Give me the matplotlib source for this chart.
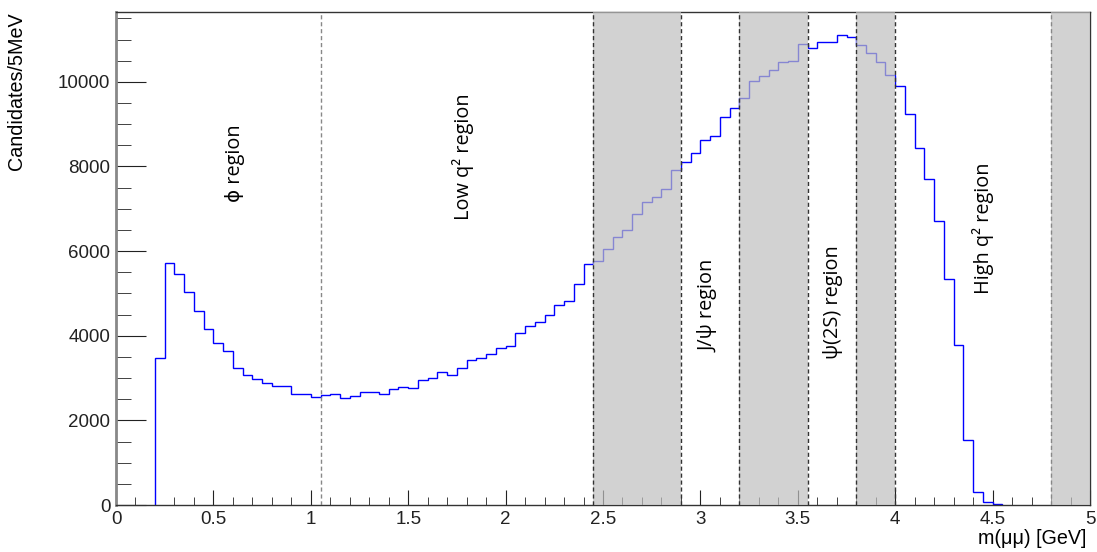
import numpy as np
import matplotlib.pyplot as plt
from matplotlib.ticker import MultipleLocator

# dimuon mass spectrum, 5 MeV bins starting at 0.20 GeV
counts = [3480, 5710, 5460, 5030, 4590, 4150, 3820, 3630, 3240, 3080,
          2970, 2880, 2820, 2820, 2630, 2630, 2550, 2590, 2620, 2540,
          2580, 2680, 2680, 2630, 2730, 2780, 2770, 2950, 3010, 3140,
          3070, 3230, 3430, 3480, 3580, 3700, 3750, 4060, 4240, 4330,
          4480, 4720, 4830, 5220, 5700, 5770, 6060, 6330, 6490, 6880,
          7170, 7270, 7460, 7910, 8110, 8320, 8620, 8730, 9180, 9390,
          9610, 10020, 10130, 10270, 10470, 10500, 10890, 10800, 10950, 10950,
          11100, 11060, 10880, 10690, 10480, 10160, 9900, 9240, 8440, 7700,
          6710, 5350, 3780, 1540, 300, 60, 15]
x_lo, x_hi = 0.20, 4.55

# vetoed mass windows (shaded) and region boundaries
vetoes = [(2.45, 2.90), (3.20, 3.55), (3.80, 4.00), (4.80, 5.00)]
boundaries = [1.05, 2.45, 2.90, 3.20, 3.55, 3.80, 4.00, 4.80]

# region labels: (text, x, y)
labels = [("ϕ region", 0.61, 8080),
          ("Low q² region", 1.78, 8230),
          ("J/ψ region", 3.04, 4700),
          ("ψ(2S) region", 3.68, 4800),
          ("High q² region", 4.45, 6550)]

plt.rcParams['font.family'] = ['Liberation Sans', 'DejaVu Sans']

fig = plt.figure(figsize=(10.97, 5.52), dpi=100)
ax = fig.add_axes([116/1097, 1 - 505/552, (1090 - 116)/1097, (505 - 12)/552])

edges = np.linspace(x_lo, x_hi, len(counts) + 1)
ax.stairs(counts, edges, color='blue', lw=1, zorder=2)

for lo, hi in vetoes:
    ax.axvspan(lo, hi, color='#c0c0c0', alpha=0.7, lw=0, zorder=3)
for b in boundaries:
    c = '#888888' if b in (1.05, 4.80) else '#333333'
    ax.axvline(b, color=c, ls=(0, (3, 2)), lw=1, zorder=4)

for txt, x, y in labels:
    ax.text(x, y, txt, rotation=90, ha='center', va='center', fontsize=14.3,
            family=['Open Sans', 'DejaVu Sans'], zorder=5)

ax.set_xlim(0, 5)
ax.set_ylim(0, 11650)
ax.xaxis.set_major_locator(MultipleLocator(0.5))
ax.xaxis.set_minor_locator(MultipleLocator(0.1))
ax.yaxis.set_major_locator(MultipleLocator(2000))
ax.yaxis.set_minor_locator(MultipleLocator(500))
ax.set_xticks([0, 0.5, 1, 1.5, 2, 2.5, 3, 3.5, 4, 4.5, 5])
ax.set_xticklabels(['0', '0.5', '1', '1.5', '2', '2.5', '3', '3.5', '4', '4.5', '5'])

ax.tick_params(axis='both', which='both', direction='in', colors='#222222',
               labelsize=13.5, top=False, right=False)
ax.tick_params(axis='x', which='major', length=11, pad=4)
ax.tick_params(axis='x', which='minor', length=5.5)
ax.tick_params(axis='y', which='major', length=21.6, pad=4)
ax.tick_params(axis='y', which='minor', length=10.8)
for s in ax.spines.values():
    s.set_color('#333333')
    s.set_linewidth(1)
ax.spines['left'].set_color('#888888')
ax.spines['left'].set_linewidth(2)

fig.text(17/1097, 1 - 12/552, "Candidates/5MeV", rotation=90, ha='center',
         va='top', fontsize=14.2)
fig.text(1086/1097, 1 - 538/552, "m(μμ) [GeV]", ha='right', va='center',
         fontsize=14.2)

fig.savefig("out.png", dpi=100)
